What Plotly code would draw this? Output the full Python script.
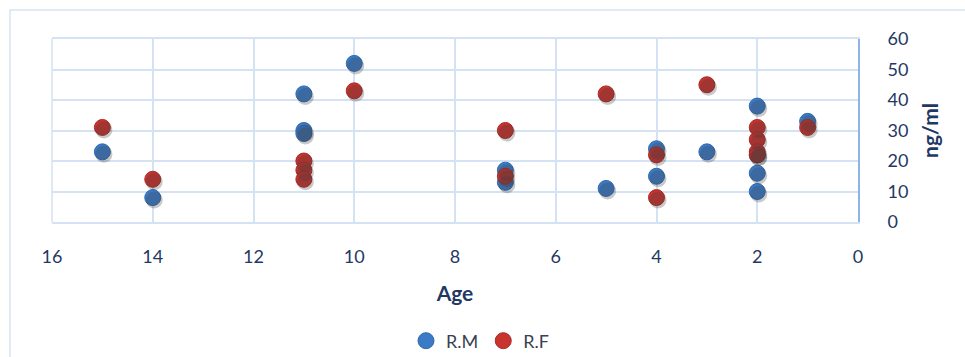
import plotly.graph_objects as go

# Hormone levels (ng/ml) by age for the two groups
rm_age = [15, 14, 11, 11, 11, 10, 7, 7, 5, 4, 4, 3, 2, 2, 2, 2, 1]
rm_val = [23, 8, 42, 30, 29, 52, 17, 13, 11, 24, 15, 23, 38, 22, 16, 10, 33]

rf_age = [15, 14, 11, 11, 11, 10, 7, 7, 5, 4, 4, 3, 2, 2, 2, 2, 1]
rf_val = [31, 14, 20, 17, 14, 43, 30, 15, 42, 22, 8, 45, 31, 27, 23, 22, 31]

x_ticks = [16, 14, 12, 10, 8, 6, 4, 2, 0]
y_ticks = [0, 10, 20, 30, 40, 50, 60]

W, H = 965, 357
M_L, M_R, M_T, M_B = 52, 107, 39, 135
PW = W - M_L - M_R
PH = H - M_T - M_B

X_RANGE = [16, 0]
Y_RANGE = [0, 60]

BLUE = "#3b7bc6"
BLUE_EDGE = "#2f68ad"
RED = "#c9332e"
RED_EDGE = "#a82a26"
GRID = "#d5e2f3"
TXT = "#1f3864"
FONT = "Lato"

# pixel offset of the drop shadow under each marker
SH_DX, SH_DY = 1.5, 2.5
dx = SH_DX * (X_RANGE[0] - X_RANGE[1]) / PW
dy = SH_DY * (Y_RANGE[1] - Y_RANGE[0]) / PH

fig = go.Figure()

shadow = dict(size=17, color="rgba(60,60,60,0.28)", line=dict(width=0))
for ages, vals in ((rm_age, rm_val), (rf_age, rf_val)):
    fig.add_trace(go.Scatter(x=ages, y=vals, mode="markers", marker=shadow,
                             xaxis="x2", yaxis="y2", showlegend=False,
                             hoverinfo="skip"))

fig.add_trace(go.Scatter(x=rm_age, y=rm_val, mode="markers", name="R.M",
                         marker=dict(size=16, color=BLUE,
                                     line=dict(color=BLUE_EDGE, width=1))))
fig.add_trace(go.Scatter(x=rf_age, y=rf_val, mode="markers", name="R.F",
                         marker=dict(size=16, color=RED,
                                     line=dict(color=RED_EDGE, width=1))))

fx = lambda px: (px - M_L) / PW
fy = lambda py: (H - M_B - py) / PH

# outer chart frame
fig.add_shape(type="rect", xref="paper", yref="paper",
              x0=fx(10), x1=fx(W + 5), y0=fy(H + 5), y1=fy(10),
              line=dict(color="#d9e3f1", width=1.5), layer="below")
# left edge of the plot area, in grid colour
fig.add_shape(type="line", xref="paper", yref="paper",
              x0=0, x1=0, y0=0, y1=1,
              line=dict(color=GRID, width=1.5), layer="below")

fig.update_layout(
    width=W, height=H,
    margin=dict(l=M_L, r=M_R, t=M_T, b=M_B, autoexpand=False),
    paper_bgcolor="white", plot_bgcolor="white",
    font=dict(family=FONT, size=18, color=TXT),
    xaxis=dict(range=X_RANGE, tickvals=x_ticks, showgrid=True,
               gridcolor=GRID, gridwidth=1.5, zeroline=False,
               showline=True, mirror=True, linecolor=GRID, linewidth=1.5,
               ticks="", ticklabelstandoff=18,
               tickfont=dict(family=FONT, size=18, color=TXT),
               title=dict(text="<b>Age</b>", standoff=20,
                          font=dict(family=FONT, size=21, color=TXT)),
               automargin=False),
    yaxis=dict(range=Y_RANGE, tickvals=y_ticks, side="right", showgrid=True,
               gridcolor=GRID, gridwidth=1.5, zeroline=False,
               showline=True, linecolor="#8fb4e3", linewidth=2,
               ticks="", ticklabelstandoff=24,
               tickfont=dict(family=FONT, size=18, color=TXT),
               title=dict(text="<b>ng/ml</b>", standoff=16,
                          font=dict(family=FONT, size=21, color=TXT)),
               automargin=False),
    xaxis2=dict(range=[X_RANGE[0] + dx, X_RANGE[1] + dx], overlaying="x",
                visible=False),
    yaxis2=dict(range=[Y_RANGE[0] + dy, Y_RANGE[1] + dy], overlaying="y",
                visible=False),
    legend=dict(orientation="h", x=fx(480), xanchor="center",
                y=fy(341), yanchor="middle",
                font=dict(family=FONT, size=18, color="#3a3f55"),
                itemwidth=30, tracegroupgap=0, bgcolor="rgba(0,0,0,0)"),
    showlegend=True,
)

fig.write_html("out.html")
